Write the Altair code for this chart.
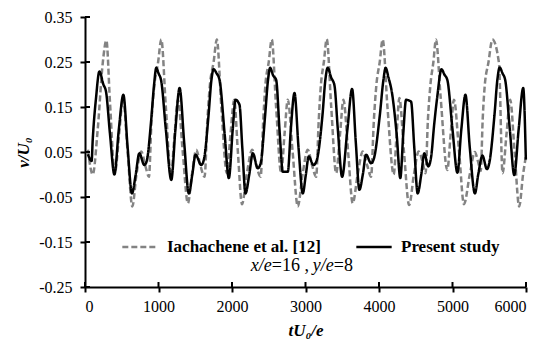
import altair as alt
import pandas as pd

# ---- data ----
series_names = ["Iachachene et al. [12]", "Present study"]

ref_t = [40, 105, 173, 241, 291, 340, 405, 470, 517, 580, 644, 700, 766, 820, 870,
         905, 945, 995, 1038, 1100, 1170, 1215, 1265, 1330, 1400, 1455, 1514, 1570, 1627,
         1665, 1700, 1750, 1794, 1855, 1930, 1980, 2030, 2080, 2136, 2200, 2275, 2330, 2390,
         2425, 2455, 2500, 2541, 2600, 2669, 2715, 2759, 2825, 2895, 2960, 3031, 3090, 3145,
         3180, 3210, 3250, 3289, 3350, 3417, 3470, 3516, 3580, 3642, 3710, 3778, 3840, 3892,
         3930, 3965, 4010, 4050, 4115, 4200, 4240, 4277, 4340, 4410, 4475, 4539, 4590, 4634,
         4665, 4700, 4740, 4775, 4838, 4929, 4975, 5020, 5090, 5156, 5235, 5305, 5345, 5385,
         5410, 5435, 5490, 5543, 5632, 5681, 5735, 5785, 5845, 5907, 5960, 5998]
ref_v = [0.055, 0.000, 0.100, 0.247, 0.298, 0.160, 0.003, 0.100, 0.170, 0.050, -0.071, 0.000, 0.051, 0.020, -0.005,
         0.120, 0.200, 0.250, 0.300, 0.150, -0.003, 0.080, 0.166, 0.050, -0.064, 0.000, 0.055, 0.020, -0.005,
         0.120, 0.200, 0.250, 0.300, 0.150, 0.003, 0.090, 0.166, 0.050, -0.066, 0.000, 0.055, 0.020, -0.005,
         0.120, 0.200, 0.250, 0.300, 0.150, 0.003, 0.090, 0.166, 0.050, -0.071, 0.000, 0.055, 0.020, -0.005,
         0.120, 0.200, 0.250, 0.301, 0.150, 0.003, 0.090, 0.166, 0.050, -0.064, 0.000, 0.051, 0.020, -0.005,
         0.120, 0.200, 0.250, 0.300, 0.150, 0.000, 0.090, 0.170, 0.050, -0.068, 0.000, 0.051, 0.030, 0.003,
         0.120, 0.200, 0.250, 0.300, 0.173, 0.010, 0.090, 0.166, 0.050, -0.066, 0.000, 0.050, 0.030, 0.008,
         0.120, 0.190, 0.250, 0.300, 0.248, 0.003, 0.090, 0.166, 0.050, -0.071, 0.000, 0.040]

cur_t = [40, 90, 105, 150, 196, 250, 285, 340, 400, 460, 522, 580, 639, 690, 739, 807,
         840, 900, 940, 970, 1000, 1038, 1100, 1174, 1230, 1287, 1350, 1413, 1460, 1504, 1582,
         1620, 1680, 1720, 1749, 1790, 1831, 1900, 1957, 2010, 2048, 2102, 2140, 2184, 2235, 2283, 2351,
         2390, 2450, 2490, 2519, 2560, 2601, 2650, 2691, 2759, 2800, 2850, 2905, 2963, 3005, 3044, 3108,
         3150, 3230, 3270, 3302, 3350, 3393, 3440, 3498, 3570, 3634, 3685, 3733, 3780, 3824, 3892,
         3930, 4010, 4060, 4090, 4130, 4177, 4240, 4290, 4330, 4368, 4436, 4480, 4526, 4575, 4617, 4670,
         4710, 4750, 4793, 4850, 4890, 4930, 5000, 5067, 5120, 5176, 5235, 5305, 5350, 5407, 5468,
         5500, 5570, 5610, 5642, 5680, 5717, 5780, 5840, 5900, 5962, 5998]
cur_v = [0.045, 0.030, 0.077, 0.170, 0.229, 0.200, 0.185, 0.090, 0.000, 0.100, 0.177, 0.060, -0.042, 0.000, 0.047, 0.021,
         0.030, 0.120, 0.200, 0.237, 0.225, 0.207, 0.100, -0.012, 0.100, 0.192, 0.070, -0.042, 0.000, 0.044, 0.021,
         0.035, 0.130, 0.210, 0.234, 0.225, 0.210, 0.090, -0.008, 0.100, 0.166, 0.155, 0.060, -0.042, 0.000, 0.047, 0.014,
         0.025, 0.130, 0.210, 0.237, 0.220, 0.210, 0.090, 0.006, 0.006, 0.100, 0.181, 0.060, -0.042, 0.000, 0.040, 0.021,
         0.030, 0.130, 0.210, 0.237, 0.215, 0.199, 0.100, -0.005, 0.100, 0.190, 0.070, -0.034, 0.000, 0.044, 0.025,
         0.035, 0.130, 0.210, 0.237, 0.215, 0.181, 0.090, -0.008, 0.090, 0.166, 0.162, 0.060, -0.042, 0.000, 0.047, 0.018,
         0.040, 0.110, 0.173, 0.234, 0.222, 0.210, 0.100, 0.004, 0.100, 0.177, 0.060, -0.042, 0.000, 0.042, 0.012,
         0.025, 0.130, 0.210, 0.238, 0.225, 0.210, 0.100, -0.001, 0.100, 0.192, 0.033]

x_ticks = [0, 1000, 2000, 3000, 4000, 5000, 6000]
y_ticks = [-0.25, -0.15, -0.05, 0.05, 0.15, 0.25, 0.35]

df = pd.concat([
    pd.DataFrame({"t": ref_t, "v": ref_v, "series": series_names[0]}),
    pd.DataFrame({"t": cur_t, "v": cur_v, "series": series_names[1]}),
], ignore_index=True)

FONT = "Liberation Serif"
W, H = 441, 270

xscale = alt.Scale(domain=[0, 6000], nice=False, zero=False)
yscale = alt.Scale(domain=[-0.25, 0.35], nice=False, zero=False)

legend = alt.Legend(
    title=None, orient="none", legendX=36, legendY=211, direction="horizontal", columns=2,
    symbolType="stroke", symbolSize=1250, symbolStrokeWidth=2.5,
    labelFont=FONT, labelFontSize=17, labelFontWeight="bold", labelColor="black",
    labelOffset=8, columnPadding=30, padding=0, labelLimit=400,
)

lines = alt.Chart(df).mark_line(strokeWidth=2.5, interpolate="monotone").encode(
    x=alt.X("t:Q", scale=xscale, axis=alt.Axis(
        values=x_ticks, format="d", title="tU₀/e", labelPadding=6, titlePadding=8)),
    y=alt.Y("v:Q", scale=yscale, axis=alt.Axis(
        values=y_ticks, format=".2f", labelExpr="replace(datum.label, '\u2212', '-')",
        title="v/U₀", labelPadding=8, titlePadding=6)),
    color=alt.Color("series:N", scale=alt.Scale(domain=series_names, range=["#838383", "#000000"]),
                    legend=legend),
    strokeDash=alt.StrokeDash("series:N", scale=alt.Scale(domain=series_names, range=[[6, 3], [1, 0]]),
                              legend=legend),
)

ytk = pd.DataFrame({"v": y_ticks})
xtk = pd.DataFrame({"t": x_ticks})
ytick_in = alt.Chart(ytk).mark_rule(color="black", strokeWidth=2).encode(
    y=alt.Y("v:Q", scale=yscale), x=alt.value(0), x2=alt.value(5))
xtick_in = alt.Chart(xtk).mark_rule(color="black", strokeWidth=2).encode(
    x=alt.X("t:Q", scale=xscale), y=alt.value(H), y2=alt.value(H - 5))

# annotation "x/e=16 , y/e=8" (italic variables, upright numbers)
ann_parts = ["x/e", "=16 , ", "y/e", "=8"]
ann_styles = ["italic", "normal", "italic", "normal"]
ann_dx = [-51, -30, 11, 32]
ann_layers = []
for txt, sty, dx in zip(ann_parts, ann_styles, ann_dx):
    ann_layers.append(
        alt.Chart(pd.DataFrame({"a": [0]})).mark_text(
            text=txt, font=FONT, fontSize=18, fontStyle=sty, color="black",
            align="left", baseline="middle", dx=dx
        ).encode(x=alt.datum(2950, scale=xscale), y=alt.datum(-0.203, scale=yscale))
    )

chart = alt.layer(lines, ytick_in, xtick_in, *ann_layers).properties(
    width=W, height=H,
    background="white",
    autosize=alt.AutoSizeParams(type="none"),
    padding={"left": 85, "top": 17, "right": 29, "bottom": 60},
).configure_view(stroke=None).configure_axis(
    grid=False, domainColor="black", domainWidth=2, tickColor="black", tickWidth=2, tickSize=5,
    labelFont=FONT, labelFontSize=16, labelColor="black",
    titleFont=FONT, titleFontSize=17, titleFontWeight="bold", titleFontStyle="italic", titleColor="black",
)

chart.save("out.html", embed_options={"renderer": "svg", "actions": False})
